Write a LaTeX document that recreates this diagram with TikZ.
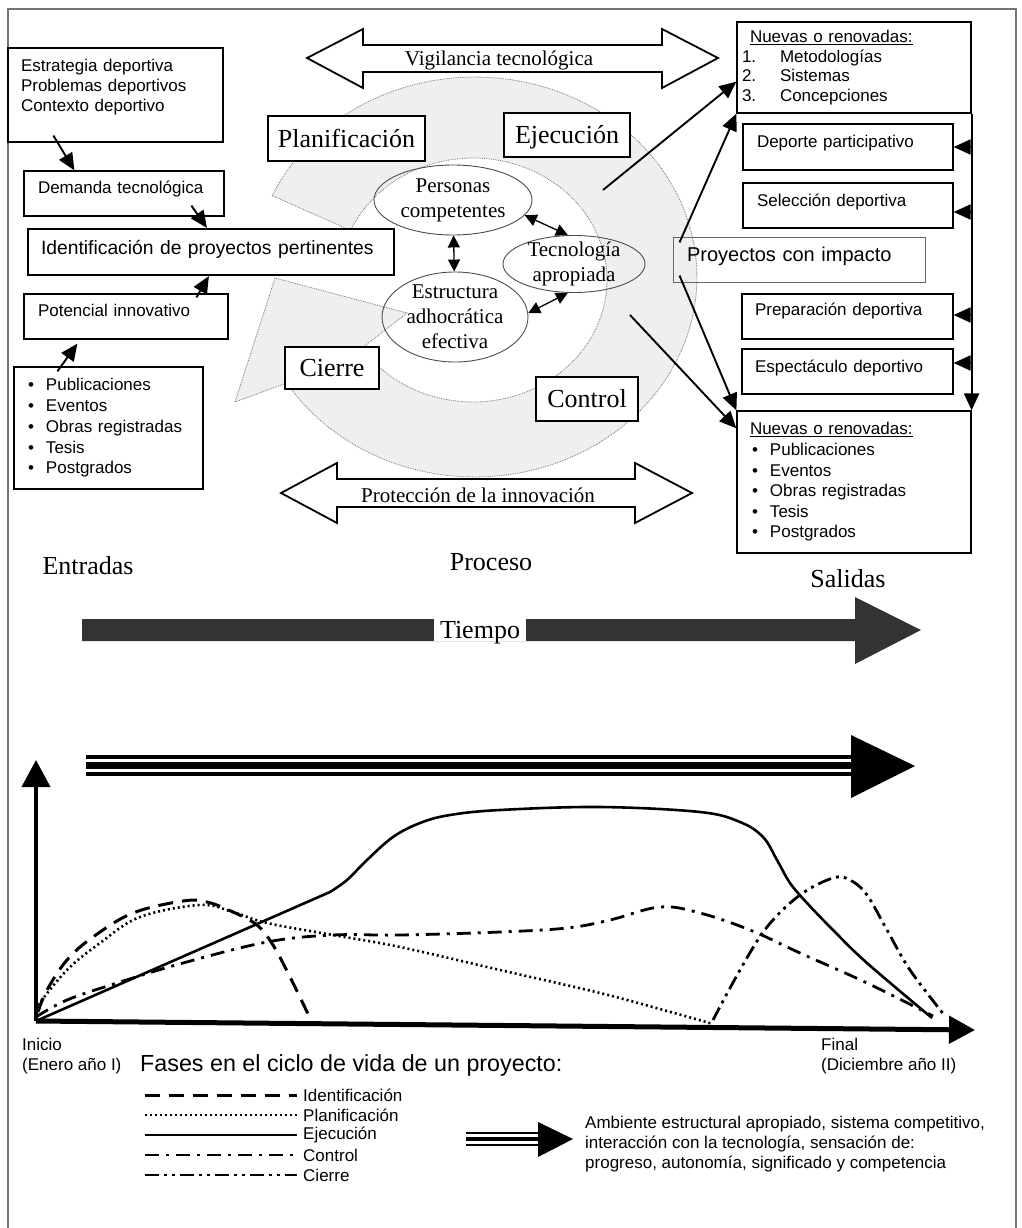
\documentclass[tikz,border=0pt]{standalone}
\usepackage{fontspec}
\setmainfont{Liberation Serif}
\setsansfont{Liberation Sans}
\usetikzlibrary{arrows.meta,shapes.geometric}
\definecolor{ringgrey}{HTML}{EFEFEF}
\definecolor{darkarrow}{HTML}{333333}
\newcommand{\lowstrut}[1]{\rule[-#1pt]{0pt}{#1pt}}
\newcommand{\blt}{\makebox[18pt][l]{\textbullet}}

\begin{document}
\begin{tikzpicture}[x=1pt,y=-1pt,
  box/.style={draw, line width=1.2pt, fill=white, rectangle, inner ysep=0pt, align=left,
    font=\sffamily\fontsize{17}{20}\selectfont},
  phase/.style={draw, line width=1.8pt, fill=white, inner sep=0pt, text height=17.5pt, text depth=0pt,
    font=\fontsize{26}{30}\selectfont},
  bubble/.style={draw=black!70, line width=0.9pt, ellipse, inner sep=-4pt, align=center,
    font=\fontsize{21}{25}\selectfont},
  arr/.style={line width=1.9pt, -{Triangle[length=17pt,width=15pt]}},
  twoway/.style={line width=1.3pt, {Triangle[length=12pt,width=12pt]}-{Triangle[length=12pt,width=12pt]}},
  sans/.style={font=\sffamily\fontsize{17}{20}\selectfont, inner sep=0pt},
  serif/.style={font=\fontsize{26}{30}\selectfont, inner sep=0pt},
  ident/.style={line width=3pt, dash pattern=on 15pt off 9pt},
  plan/.style={line width=2.6pt, dash pattern=on 2pt off 3pt},
  ejec/.style={line width=2.6pt},
  ctrl/.style={line width=2.8pt, dash pattern=on 14pt off 7pt on 3pt off 7pt},
  cierre/.style={line width=2.8pt, dash pattern=on 14pt off 5pt on 3pt off 5pt on 3pt off 5pt}]

  \useasboundingbox (0,0) rectangle (1021,1228);

  % marco
  \draw[black!55, line width=1.3pt] (8,1228) |- (1016,9) -- (1016,1228);

  % anillo del ciclo
  \filldraw[fill=ringgrey, draw=black!55, densely dotted, line width=0.8pt]
    plot[domain=-156:148, samples=90, variable=\t] ({475+222*cos(\t)}, {277+200*sin(\t)})
    -- (235,402) -- (275,278) -- (407,313)
    -- plot[domain=146:-156, samples=90, variable=\t] ({473+134*cos(\t)}, {280+122*sin(\t)})
    -- cycle;

  % flechas dobles
  \draw[line width=1.8pt, fill=white] (307,58) -- (363,29) -- (363,45) -- (662,45) -- (662,29)
    -- (718,58) -- (662,88) -- (662,72) -- (363,72) -- (363,88) -- cycle;
  \node[serif, font=\fontsize{21}{25}\selectfont] (vigilancia) at (499,60) {Vigilancia tecnológica};
  \draw[line width=1.8pt, fill=white] (281,493) -- (337,463) -- (337,479) -- (635,479) -- (635,463)
    -- (692,493) -- (635,523) -- (635,507) -- (337,507) -- (337,523) -- cycle;
  \node[serif, font=\fontsize{21}{25}\selectfont] (proteccion) at (478,495) {Protección de la innovación};

  % entradas
  \node[box, text width=189pt, inner xsep=13pt, minimum height=94pt] (strat) at (115.5,95)
    {Estrategia deportiva\\Problemas deportivos\\Contexto deportivo\lowstrut{18.5}};
  \node[box, text width=172pt, inner xsep=14pt, minimum height=45pt] (demanda) at (124,193.5)
    {Demanda tecnológica\lowstrut{11.6}};
  \node[box, line width=2.2pt, text width=340pt, inner xsep=13pt, minimum height=46pt,
    font=\sffamily\fontsize{19.3}{23}\selectfont] (ident) at (211,252)
    {Identificación de proyectos pertinentes\lowstrut{9}};
  \node[box, text width=176pt, inner xsep=14pt, minimum height=45pt] (potencial) at (126,316.5)
    {Potencial innovativo\lowstrut{11.6}};
  \node[box, text width=161pt, inner xsep=14pt, minimum height=122pt,
    font=\sffamily\fontsize{17}{20.8}\selectfont] (fuentes) at (108.5,428)
    {\blt Publicaciones\\\blt Eventos\\\blt Obras registradas\\\blt Tesis\\\blt Postgrados};

  \draw[arr] ([xshift=46pt,yshift=7pt]strat.south west) -- ([xshift=51pt]demanda.north west);
  \draw[arr] ([xshift=168pt,yshift=11pt]demanda.south west) -- ([xshift=180pt]ident.north west);
  \draw[arr] ([xshift=173pt,yshift=-4pt]potencial.north west) -- ([xshift=182pt]ident.south west);
  \draw[arr] ([xshift=44pt,yshift=-5pt]fuentes.north west) -- ([xshift=54pt,yshift=-4pt]potencial.south west);

  % proceso
  \node[phase, minimum width=157pt, minimum height=45pt] (planif) at (346.5,138.5) {Planificación};
  \node[phase, minimum width=126pt, minimum height=44pt] (ejecucion) at (567,135) {Ejecución};
  \node[phase, minimum width=94pt, minimum height=42pt] (cierrebox) at (332,368) {Cierre};
  \node[phase, minimum width=102pt, minimum height=44pt] (controlbox) at (587,399) {Control};

  \node[bubble, minimum width=158pt, minimum height=70pt] (personas) at (453,200) {Personas\\competentes};
  \node[bubble, minimum width=142pt, minimum height=57pt] (tecnologia) at (574,264) {Tecnología\\apropiada};
  \node[bubble, minimum width=146pt, minimum height=90pt] (estructura) at (455,317) {Estructura\\adhocrática\\efectiva};

  \draw[twoway] (personas) -- (estructura);
  \draw[twoway] (personas.-12) -- (tecnologia.102);
  \draw[twoway] (estructura.3) -- (tecnologia.-102);

  % salidas
  \node[box, text width=224pt, inner xsep=5pt, minimum height=91pt,
    font=\sffamily\fontsize{17}{19.7}\selectfont] (nuevasA) at (854,67.5)
    {\hspace*{8pt}\underline{Nuevas o renovadas:}\\\makebox[38pt][l]{1.}Metodologías\\
     \makebox[38pt][l]{2.}Sistemas\\\makebox[38pt][l]{3.}Concepciones};
  \node[box, text width=182pt, inner xsep=14pt, minimum height=46pt] (deporte) at (848,147)
    {Deporte participativo\lowstrut{10.6}};
  \node[box, text width=182pt, inner xsep=14pt, minimum height=45pt] (seleccion) at (848,205.5)
    {Selección deportiva\lowstrut{9.6}};
  \node[box, draw=black!60, line width=1pt, fill=none, text width=224pt, inner xsep=14pt, minimum height=45pt,
    font=\sffamily\fontsize{20}{24}\selectfont] (proyectos) at (799,259.5)
    {Proyectos con impacto\lowstrut{9.6}};
  \node[box, text width=185pt, inner xsep=13pt, minimum height=45pt] (preparacion) at (847.5,316.5)
    {Preparación deportiva\lowstrut{13.6}};
  \node[box, text width=185pt, inner xsep=13pt, minimum height=45pt] (espectaculo) at (847.5,371.5)
    {Espectáculo deportivo\lowstrut{9.6}};
  \node[box, text width=208pt, inner xsep=13pt, minimum height=142pt,
    font=\sffamily\fontsize{17}{20.6}\selectfont] (nuevasB) at (854,482)
    {\underline{Nuevas o renovadas:}\\\hspace*{2pt}\blt Publicaciones\\\hspace*{2pt}\blt Eventos\\
     \hspace*{2pt}\blt Obras registradas\\\hspace*{2pt}\blt Tesis\\\hspace*{2pt}\blt Postgrados};

  \coordinate (ringNE) at (603,190);
  \coordinate (ringSE) at (630,315);
  \draw[arr] (ringNE) -- ([yshift=32pt]nuevasA.south west);
  \draw[arr] ([xshift=7pt,yshift=-6pt]proyectos.north west) -- (nuevasA.south west);
  \draw[arr] ([xshift=7pt,yshift=7pt]proyectos.south west) -- (nuevasB.north west);
  \draw[arr] (ringSE) -- ([yshift=-18pt]nuevasB.north west);
  \draw[arr] (nuevasA.south east) -- (nuevasB.north east);
  \draw[arr] (deporte.east -| nuevasA.east) -- (deporte.east);
  \draw[arr] ([yshift=-6.5pt]seleccion.east -| nuevasA.east) -- ([yshift=-6.5pt]seleccion.east);
  \draw[arr] ([yshift=1.5pt]preparacion.east -| nuevasA.east) -- ([yshift=1.5pt]preparacion.east);
  \draw[arr] ([yshift=8.5pt]espectaculo.east -| nuevasA.east) -- ([yshift=8.5pt]espectaculo.east);

  % tiempo
  \node[serif] (entradas) at (88,566) {Entradas};
  \node[serif] (proceso) at (491,562) {Proceso};
  \node[serif] (salidas) at (848,579) {Salidas};
  \fill[darkarrow] (82,619) -- (855,619) -- (855,597) -- (921,630) -- (855,664) -- (855,641) -- (82,641) -- cycle;
  \node[serif, fill=white, inner xsep=6pt, inner ysep=0pt, minimum height=22pt, text height=19pt, text depth=3pt]
    (tiempo) at (480,630) {Tiempo};

  % ciclo de vida
  \draw[line width=4pt] (86,757) -- (851,757);
  \draw[line width=7pt] (86,765.5) -- (851,765.5);
  \draw[line width=4pt] (86,774) -- (851,774);
  \fill (851,735) -- (915,766) -- (851,798) -- cycle;

  \coordinate (origen) at (36,1021);
  \coordinate (ytop) at (36,760);
  \coordinate (xend) at (975,1030);
  \draw[line width=4pt, -{Triangle[length=27pt,width=28pt]}] (origen) -- (ytop);
  \draw[line width=5pt, -{Triangle[length=26pt,width=27pt]}] (origen) -- (xend);

  \draw[ident] plot[smooth, tension=0.6] coordinates {(38,1012) (47,990) (67,960) (93,937) (133,913)
    (183,901) (207,902) (233,912) (257,925) (273,945) (290,977) (310,1018)};
  \draw[plan] plot[smooth, tension=0.6] coordinates {(38,1005) (67,970) (100,943) (140,917) (200,905)
    (233,912) (267,923) (333,935) (400,947) (500,970) (600,993) (667,1011) (713,1024)};
  \draw[ejec] (origen) -- (330,892) plot[smooth, tension=0.6] coordinates {(330,892) (347,880) (367,860)
    (393,837) (420,823) (450,815) (500,810) (600,807) (700,812) (740,822) (763,837) (777,860)
    (790,883) (807,903) (833,930) (867,963) (932,1018)};
  \draw[ctrl] plot[smooth, tension=0.6] coordinates {(36,1017) (67,1000) (117,983) (183,963) (267,942)
    (333,935) (400,935) (500,932) (567,928) (610,920) (660,907) (700,913) (750,930) (800,953)
    (867,983) (933,1016)};
  \draw[cierre] plot[smooth, tension=0.6] coordinates {(713,1020) (740,970) (767,927) (800,895)
    (833,878) (850,880) (867,895) (887,930) (910,970) (945,1016)};

  \node[sans, anchor=north west, align=left] (inicio) at (22,1038) {Inicio\\(Enero año I)};
  \node[sans, anchor=north west, align=left] (final) at (821,1038) {Final\\(Diciembre año II)};
  \node[sans, anchor=west, font=\sffamily\fontsize{23.3}{27}\selectfont] (fases) at (140,1065)
    {Fases en el ciclo de vida de un proyecto:};

  % leyenda
  \draw[ident] (145,1095) -- (297,1095);
  \draw[plan] (145,1115) -- (297,1115);
  \draw[ejec] (145,1135) -- (297,1135);
  \draw[ctrl] (145,1155) -- (297,1155);
  \draw[cierre] (145,1175) -- (297,1175);
  \node[sans, anchor=west] (legident) at (303,1095) {Identificación};
  \node[sans, anchor=west] (legplan) at (303,1115) {Planificación};
  \node[sans, anchor=west] (legejec) at (303,1135) {Ejecución};
  \node[sans, anchor=west] (legctrl) at (303,1155) {Control};
  \node[sans, anchor=west] (legcierre) at (303,1175) {Cierre};

  \draw[line width=2pt] (466,1133) -- (538,1133);
  \draw[line width=3.5pt] (466,1139) -- (538,1139);
  \draw[line width=2pt] (466,1145) -- (538,1145);
  \fill (538,1122) -- (573,1139) -- (538,1157) -- cycle;
  \node[sans, anchor=north west, align=left] (ambiente) at (585,1116)
    {Ambiente estructural apropiado, sistema competitivo,\\interacción con la tecnología, sensación de:\\
     progreso, autonomía, significado y competencia};
\end{tikzpicture}
\end{document}
